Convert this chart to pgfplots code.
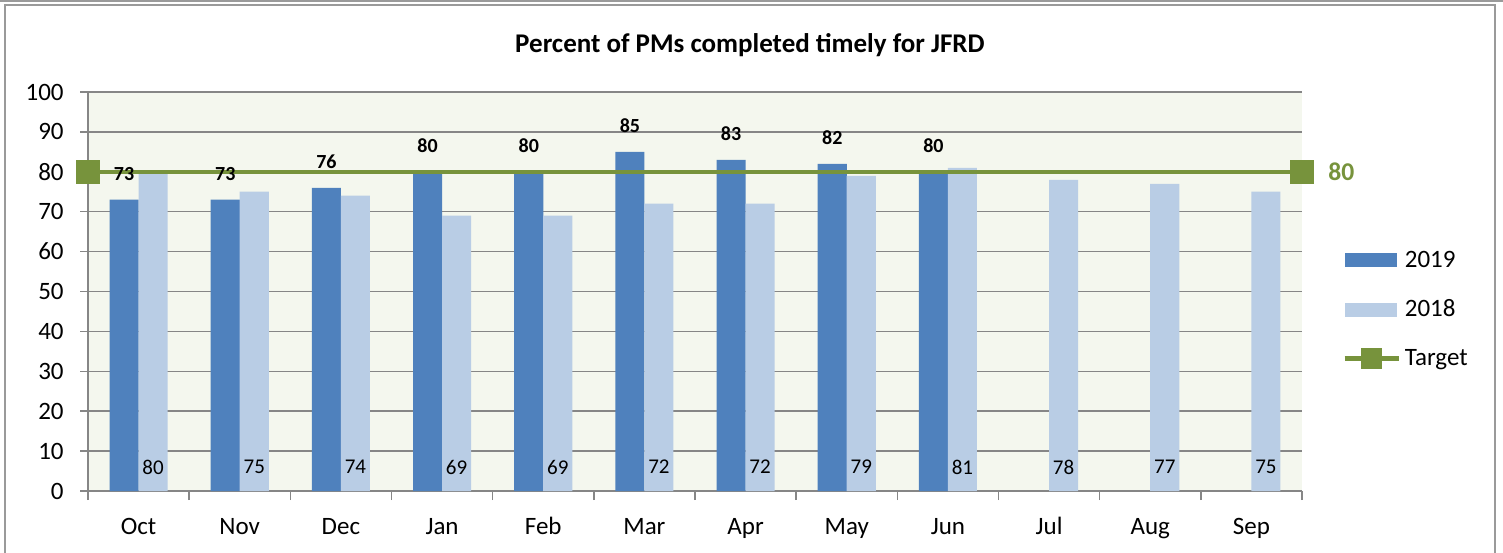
\documentclass[border=0pt]{standalone}
\usepackage{pgfplots}
\usepackage{pgfplotstable}
\pgfplotsset{compat=1.18}
\usepackage{fontspec}
\setmainfont{Carlito}
\definecolor{c19}{HTML}{4F81BD}
\definecolor{c18}{HTML}{B9CDE5}
\definecolor{tgt}{HTML}{77933C}
\definecolor{gridc}{HTML}{868686}
\definecolor{bgc}{HTML}{F4F7EE}
\definecolor{bordc}{HTML}{9A9A9A}

\pgfplotstableread{
x y
0 73
1 73
2 76
3 80
4 80
5 85
6 83
7 82
8 80
}\tabA
\pgfplotstableread{
x y
0 80
1 75
2 74
3 69
4 69
5 72
6 72
7 79
8 81
9 78
10 77
11 75
}\tabB

\begin{document}
\begin{tikzpicture}[x=1pt,y=1pt]
\useasboundingbox (0,0) rectangle (751.5,276);
\draw[bordc, line width=1pt] (2.5,-10) rectangle (747.5,273.5);
\draw[bordc, line width=1pt] (0,275.5) -- (751.5,275.5);
\node[font=\fontsize{13.5}{16}\selectfont\bfseries, anchor=base] at (375,249.5) {Percent of PMs completed timely for JFRD};
\begin{axis}[
  at={(44pt,30.5pt)}, anchor=south west,
  scale only axis, width=607pt, height=199.5pt,
  xmin=-0.5, xmax=11.5, ymin=0, ymax=100,
  /pgf/number format/assume math mode=true,
  ytick={0,10,...,100},
  xtick={0,...,11},
  xticklabels={Oct,Nov,Dec,Jan,Feb,Mar,Apr,May,Jun,Jul,Aug,Sep},
  xtick style={draw=none},
  extra x ticks={-0.5,0.5,...,11.5},
  extra x tick labels={},
  extra x tick style={xtick style={draw=gridc, line width=0.8pt}, major tick length=4.5pt},
  axis x line*=bottom, axis y line*=left,
  axis line style={gridc, line width=0.8pt, -},
  ymajorgrids, major grid style={gridc, line width=0.8pt},
  tick align=outside,
  major tick length=4pt,
  ytick style={gridc, line width=0.8pt},
  tick label style={font=\fontsize{12.5}{15}\selectfont},
  yticklabel style={anchor=east, inner sep=0pt, xshift=-8pt},
  xticklabel style={anchor=base, inner sep=0pt, yshift=-17.5pt},
  axis background/.style={fill=bgc},
  clip=false,
  legend style={at={(1.033,0.455)}, anchor=west, draw=none, fill=none,
    font=\fontsize{12.5}{15}\selectfont, row sep=10.75pt, inner sep=0pt},
  legend cell align=left,
]
\addplot[ybar, bar width=0.287, bar shift=-0.1433, fill=c19, draw=none,
  legend image code/.code={\fill[c19] (0pt,-3.5pt) rectangle (26pt,3.5pt);}]
  table[x=x,y=y]{\tabA};
\addlegendentry{2019}
\addplot[ybar, bar width=0.287, bar shift=0.1433, fill=c18, draw=none,
  legend image code/.code={\fill[c18] (0pt,-3.5pt) rectangle (26pt,3.5pt);}]
  table[x=x,y=y]{\tabB};
\addlegendentry{2018}
\addplot[tgt, line width=2.2pt, mark=square*, mark size=5pt, mark options={solid},
  legend image code/.code={\draw[tgt, line width=2.2pt] (0pt,0pt) -- (27pt,0pt);
    \fill[tgt] (9.5pt,-4pt) rectangle (17.5pt,4pt);}]
  coordinates {(-0.5,80) (11.5,80)};
\addlegendentry{Target}
\addplot[forget plot, draw=none, nodes near coords, point meta=explicit,
  every node near coord/.style={anchor=center, xshift=-7.25pt, yshift=13pt, text=black,
    font=\bfseries\fontsize{10}{12}\selectfont}]
  table[x=x,y=y,meta=y]{\tabA};
\addplot[forget plot, draw=none, nodes near coords, point meta=explicit,
  every node near coord/.style={anchor=center, xshift=7.25pt, text=black,
    font=\fontsize{10.5}{12}\selectfont}]
  table[x=x,y expr=6,meta=y]{\tabB};
\addplot[forget plot, draw=none, nodes near coords, point meta=explicit,
  every node near coord/.style={anchor=west, inner sep=0pt, xshift=13pt, text=tgt,
    font=\bfseries\fontsize{12.8}{15}\selectfont}]
  coordinates {(11.5,80) [80]};
\end{axis}
\end{tikzpicture}
\end{document}
